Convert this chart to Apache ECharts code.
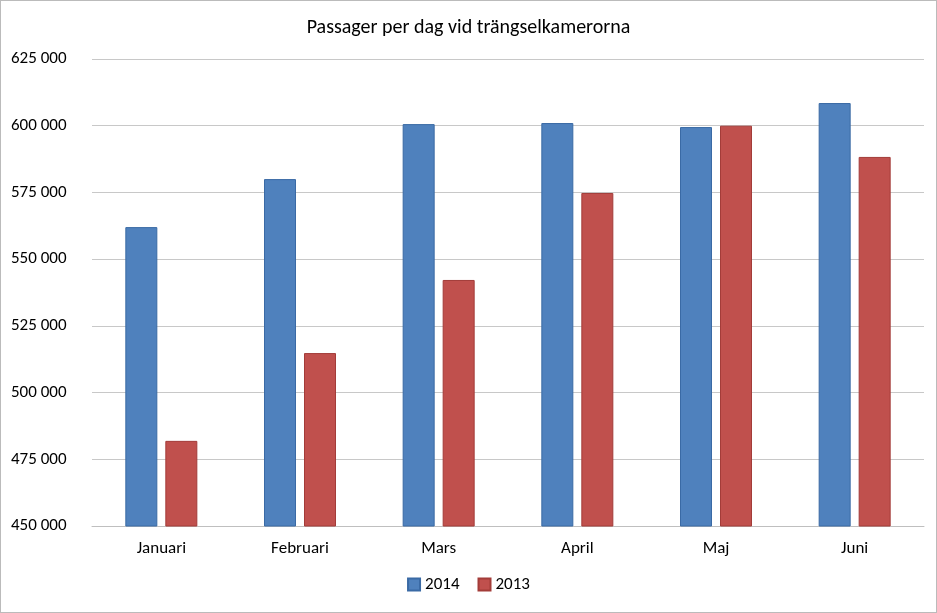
<!DOCTYPE html>
<html><head><meta charset="utf-8">
<script src="https://cdn.jsdelivr.net/npm/echarts@6/dist/echarts.min.js"></script>
<style>html,body{margin:0;padding:0;background:#fff}#c{width:935px;height:611px;border:1px solid #bbb}</style>
</head><body><div id="c"></div>
<script>
const categories = ['Januari','Februari','Mars','April','Maj','Juni'];
const series2014 = [562000, 580000, 600600, 601000, 599500, 608500];
const series2013 = [481900, 514800, 542200, 574800, 600000, 588300];
const chart = echarts.init(document.getElementById('c'));
const font = 'Calibri, Carlito, "Open Sans", sans-serif';
chart.setOption({
  animation:false,
  title:{text:'Passager per dag vid trängselkamerorna',left:'center',top:12,textStyle:{fontFamily:font,fontSize:20,fontWeight:'normal',color:'#000'}},
  legend:{bottom:14,icon:'rect',itemWidth:12,itemHeight:12,itemGap:18,textStyle:{fontFamily:font,fontSize:17,color:'#000'},data:['2014','2013']},
  grid:{left:91,right:12,top:58,bottom:86},
  xAxis:{type:'category',data:categories,axisTick:{show:false},axisLine:{lineStyle:{color:'#bfbfbf'}},axisLabel:{fontFamily:font,fontSize:17,color:'#000',margin:14}},
  yAxis:{type:'value',min:450000,max:625000,interval:25000,axisLabel:{fontFamily:font,fontSize:17,color:'#000',margin:81,align:'left',formatter:v=>String(v).replace(/\B(?=(\d{3})+$)/g,' ')},splitLine:{lineStyle:{color:'#c8c8c8',width:1}}},
  series:[
    {name:'2014',type:'bar',data:series2014,barWidth:32,barGap:'25%',itemStyle:{color:'#4f81bd',borderColor:'#3a6aa5',borderWidth:1}},
    {name:'2013',type:'bar',data:series2013,barWidth:32,itemStyle:{color:'#c0504d',borderColor:'#a33c39',borderWidth:1}}
  ]
});
</script></body></html>
